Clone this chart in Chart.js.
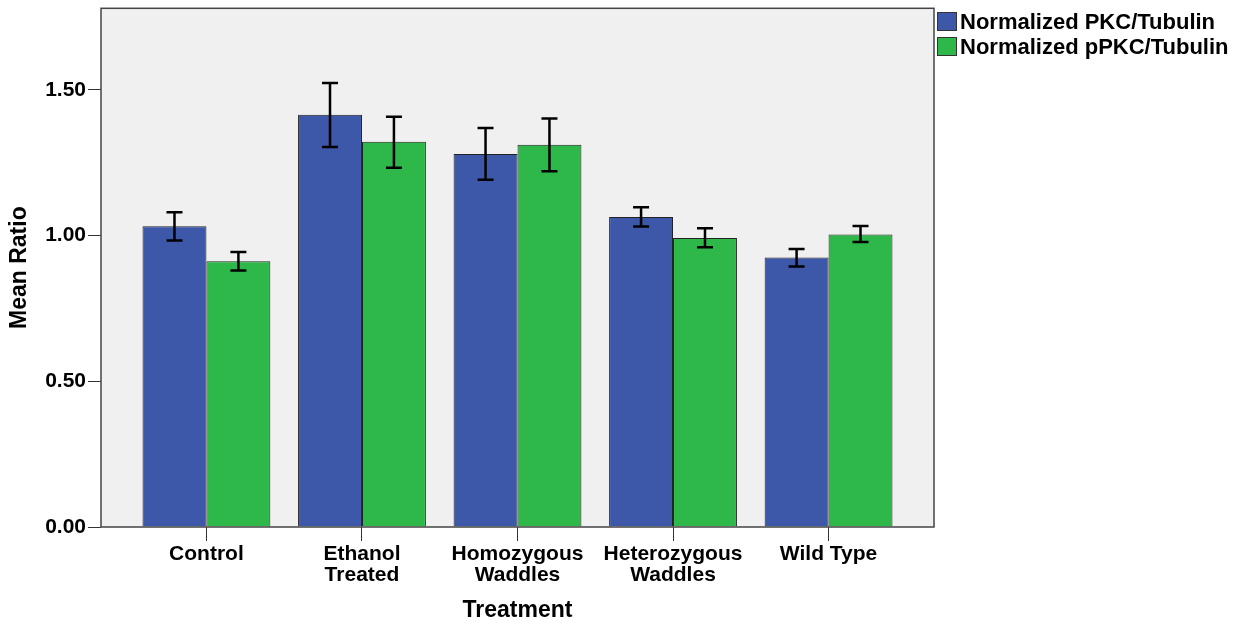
<!DOCTYPE html>
<html>
<head>
<meta charset="utf-8">
<script src="https://cdn.jsdelivr.net/npm/chart.js@4"></script>
<style>
  body { margin: 0; background: #fff; }
  #wrap { width: 1251px; height: 626px; }
</style>
</head>
<body>
<div id="wrap"><canvas id="chart" width="1251" height="626"></canvas></div>
<script>
// ---------- data ----------
const categories = ['Control', ['Ethanol', 'Treated'], ['Homozygous', 'Waddles'], ['Heterozygous', 'Waddles'], 'Wild Type'];
const seriesNames = ['Normalized PKC/Tubulin', 'Normalized pPKC/Tubulin'];
const pkcMean = [1.032, 1.415, 1.280, 1.064, 0.925];
const pkcLow  = [0.983, 1.304, 1.192, 1.031, 0.894];
const pkcHigh = [1.080, 1.524, 1.369, 1.097, 0.954];
const ppkcMean = [0.912, 1.322, 1.312, 0.992, 1.004];
const ppkcLow  = [0.880, 1.233, 1.221, 0.960, 0.978];
const ppkcHigh = [0.944, 1.408, 1.402, 1.025, 1.033];
const yTicks = [0, 0.5, 1.0, 1.5];

const FONT = "Arial, 'Liberation Sans', sans-serif";
const BLUE = '#3d57a9';
const GREEN = '#2fb84a';

// plot background, frame, error bars and legend
const spssLook = {
  id: 'spssLook',
  beforeDraw(chart) {
    const { ctx, chartArea: a } = chart;
    ctx.save();
    ctx.fillStyle = '#f0f0f0';
    ctx.fillRect(a.left, a.top, a.right - a.left, a.bottom - a.top);
    ctx.restore();
  },
  afterDatasetsDraw(chart) {
    const { ctx } = chart;
    const y = chart.scales.y;
    const bars = [[pkcLow, pkcHigh], [ppkcLow, ppkcHigh]];
    ctx.save();
    ctx.strokeStyle = '#000';
    ctx.lineWidth = 2.5;
    bars.forEach((pair, di) => {
      chart.getDatasetMeta(di).data.forEach((bar, i) => {
        const lo = y.getPixelForValue(pair[0][i]);
        const hi = y.getPixelForValue(pair[1][i]);
        ctx.beginPath();
        ctx.moveTo(bar.x, lo); ctx.lineTo(bar.x, hi);
        ctx.moveTo(bar.x - 8, lo); ctx.lineTo(bar.x + 8, lo);
        ctx.moveTo(bar.x - 8, hi); ctx.lineTo(bar.x + 8, hi);
        ctx.stroke();
      });
    });
    ctx.restore();
  },
  afterDraw(chart) {
    const { ctx, chartArea: a } = chart;
    ctx.save();
    ctx.strokeStyle = '#444';
    ctx.lineWidth = 1.5;
    ctx.strokeRect(a.left, a.top, a.right - a.left, a.bottom - a.top);
    // legend
    ctx.font = 'bold 22px ' + FONT;
    ctx.textBaseline = 'middle';
    chart.data.datasets.forEach((ds, i) => {
      const bx = a.right + 3, by = 12 + i * 25;
      ctx.fillStyle = ds.backgroundColor;
      ctx.fillRect(bx, by, 20, 19);
      ctx.strokeStyle = '#333';
      ctx.lineWidth = 1;
      ctx.strokeRect(bx + 0.5, by + 0.5, 19, 18);
      ctx.fillStyle = '#000';
      ctx.fillText(ds.label, bx + 23, by + 11);
    });
    ctx.restore();
  }
};

const ctx = document.getElementById('chart').getContext('2d');
new Chart(ctx, {
  type: 'bar',
  data: {
    datasets: [
      {
        label: seriesNames[0],
        data: pkcMean.map((v, i) => ({ x: i, y: v })),
        backgroundColor: BLUE,
        borderColor: '#222',
        borderWidth: 1
      },
      {
        label: seriesNames[1],
        data: ppkcMean.map((v, i) => ({ x: i, y: v })),
        backgroundColor: GREEN,
        borderColor: '#222',
        borderWidth: 1
      }
    ]
  },
  plugins: [spssLook],
  options: {
    responsive: false,
    animation: false,
    categoryPercentage: 0.822,
    barPercentage: 1.0,
    layout: { padding: { top: 0, right: 317, left: 0, bottom: 0 } },
    plugins: { legend: { display: false }, tooltip: { enabled: false } },
    scales: {
      x: {
        type: 'linear',
        offset: false,
        min: -0.678,
        max: categories.length - 1 + 0.678,
        afterBuildTicks: scale => { scale.ticks = categories.map((c, i) => ({ value: i })); },
        afterFit: scale => { scale.height = 99; },
        grid: { offset: false, drawOnChartArea: false, drawTicks: true, tickLength: 14, color: '#333', lineWidth: 1 },
        border: { display: false },
        ticks: {
          autoSkip: false,
          maxRotation: 0,
          padding: 3,
          color: '#000',
          font: { family: FONT, size: 21, weight: 'bold', lineHeight: 1.0 },
          callback: v => categories[v]
        },
        title: {
          display: true,
          text: 'Treatment',
          color: '#000',
          font: { family: FONT, size: 23, weight: 'bold' },
          padding: { top: 0, bottom: 2 }
        }
      },
      y: {
        min: 0,
        max: 1.78,
        afterBuildTicks: scale => { scale.ticks = yTicks.map(v => ({ value: v })); },
        afterFit: scale => { scale.width = 101; },
        grid: { drawOnChartArea: false, drawTicks: true, tickLength: 13, color: '#333', lineWidth: 1 },
        border: { display: false },
        ticks: {
          padding: 2,
          color: '#000',
          font: { family: FONT, size: 21, weight: 'bold', lineHeight: 0.6 },
          callback: v => v.toFixed(2)
        },
        title: {
          display: true,
          text: 'Mean Ratio',
          color: '#000',
          font: { family: FONT, size: 23, weight: 'bold' },
          padding: { top: 6, bottom: 0 }
        }
      }
    }
  }
});
</script>
</body>
</html>
